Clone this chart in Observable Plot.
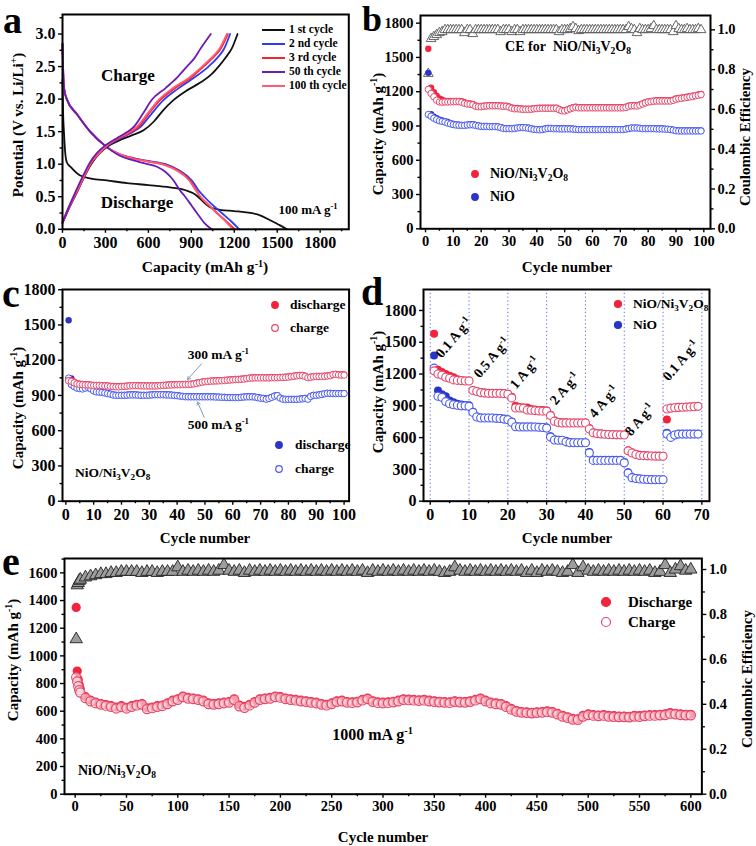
<!DOCTYPE html>
<html><head><meta charset="utf-8">
<script src="https://cdn.jsdelivr.net/npm/d3@7"></script>
<script src="https://cdn.jsdelivr.net/npm/@observablehq/plot@0.6"></script>
<style>
body{margin:0;background:#fff;}
#fig{position:relative;width:756px;height:846px;overflow:hidden;font-family:"Liberation Serif","Times New Roman",serif;font-weight:bold;color:#000;background:#fff;}
.t{position:absolute;white-space:nowrap;line-height:1;z-index:2;}
.c{transform:translate(-50%,-50%);}
.r{transform:translate(-50%,-50%) rotate(-90deg);}
.l{transform:translate(0,-50%);}
.rot{transform:translate(-50%,-50%) rotate(-50deg);}
.letter{z-index:5;}
sub{font-size:68%;vertical-align:-0.3em;line-height:0;}
sup{font-size:65%;vertical-align:0.55em;line-height:0;}
</style></head><body><div id="fig"></div><script>
const FONT = '"Liberation Serif","Times New Roman",serif';
const fig = document.getElementById("fig");

// ---------------- Panel a : voltage profiles ----------------
const aLabels = ["1 st cycle","2 nd cycle","3 rd cycle","50 th cycle","100 th cycle"];
const aColors = ["#111111","#2b3cf2","#f3262b","#6a1db5","#ff5a78"];
const aDis1 = [[0,2.3],[4,1.8],[10,1.5],[18,1.2],[30,1.03],[60,0.95],[120,0.83],[200,0.78],[310,0.75],[450,0.71],[600,0.68],[750,0.645],[860,0.6],[930,0.53],[980,0.43],[1030,0.34],[1100,0.3],[1200,0.28],[1300,0.255],[1380,0.215],[1450,0.14],[1520,0.06],[1567,0]];
const aDis2 = [[0,2.85],[5,2.4],[12,2.15],[30,2.0],[100,1.77],[193,1.5],[305,1.27],[400,1.15],[500,1.09],[600,1.05],[720,1.0],[820,0.9],[904,0.75],[950,0.6],[990,0.5],[1050,0.37],[1113,0.25],[1180,0.12],[1235,0]];
const aDis3 = [[0,2.85],[5,2.4],[12,2.15],[30,2.0],[100,1.77],[193,1.5],[305,1.27],[400,1.15],[500,1.09],[600,1.04],[715,0.99],[810,0.9],[892,0.75],[935,0.6],[962,0.5],[1020,0.37],[1078,0.25],[1145,0.12],[1205,0]];
const aDis50 = [[0,2.85],[5,2.4],[12,2.15],[30,2.0],[100,1.77],[193,1.5],[305,1.27],[400,1.13],[496,1.06],[560,1.02],[660,0.96],[720,0.88],[776,0.75],[820,0.6],[857,0.5],[900,0.37],[939,0.25],[990,0.1],[1043,0]];
const aDis100 = [[0,2.85],[5,2.4],[12,2.15],[30,2.0],[100,1.77],[193,1.5],[305,1.27],[400,1.15],[500,1.08],[600,1.04],[710,0.99],[800,0.9],[885,0.75],[930,0.6],[965,0.5],[1025,0.37],[1082,0.25],[1140,0.12],[1190,0]];
const aCh1 = [[0,0.1],[40,0.3],[90,0.52],[150,0.8],[200,1.0],[260,1.17],[320,1.28],[400,1.37],[480,1.44],[566,1.52],[640,1.66],[700,1.82],[773,1.98],[860,2.12],[960,2.25],[1040,2.38],[1090,2.5],[1140,2.64],[1183,2.78],[1223,3.0]];
const aCh2 = [[0,0.1],[40,0.3],[90,0.53],[150,0.8],[195,1.0],[250,1.15],[300,1.26],[380,1.37],[460,1.46],[543,1.57],[620,1.77],[703,1.98],[800,2.15],[900,2.3],[1020,2.5],[1080,2.63],[1128,2.77],[1171,3.0]];
const aCh3 = [[0,0.1],[40,0.3],[90,0.53],[150,0.8],[195,1.0],[250,1.15],[300,1.26],[380,1.38],[460,1.47],[530,1.57],[600,1.77],[680,1.98],[780,2.16],[880,2.3],[985,2.5],[1048,2.63],[1104,2.77],[1155,3.0]];
const aCh50 = [[0,0.1],[40,0.32],[90,0.57],[150,0.85],[190,1.02],[240,1.17],[300,1.29],[380,1.4],[440,1.48],[496,1.57],[560,1.77],[624,1.99],[720,2.17],[800,2.33],[869,2.5],[922,2.63],[966,2.78],[1036,3.0]];
const aCh100 = [[0,0.12],[40,0.32],[90,0.55],[150,0.82],[195,1.02],[250,1.16],[300,1.27],[380,1.39],[455,1.48],[525,1.59],[595,1.78],[672,1.99],[772,2.17],[872,2.31],[975,2.5],[1038,2.63],[1095,2.77],[1148,3.0]];
const aXTicks = [0,300,600,900,1200,1500,1800], aXMinor = [150,450,750,1050,1350,1650,1950];
const aYTicks = [0,0.5,1.0,1.5,2.0,2.5,3.0], aYMinor = [0.25,0.75,1.25,1.75,2.25,2.75,3.25];

// ---------------- Panel b : cycling at 100 mA/g ----------------
const bCE = [0.78,0.955,0.965,0.975,0.985,0.99,1.0,1.0,1.0,1.0,
 1.0,1.0,1.0,0.985,1.0,1.0,0.98,1.0,1.0,1.0,
 1.0,1.0,1.0,1.0,1.0,1.0,0.99,1.0,1.0,1.0,
 0.99,1.0,1.0,0.99,1.0,1.0,1.0,1.0,1.0,1.0,
 1.0,1.0,1.0,1.0,1.0,1.0,1.0,0.99,1.0,1.0,
 1.0,1.005,1.015,1.005,0.995,1.0,1.0,1.0,1.0,1.0,
 1.0,1.0,1.0,1.0,1.0,1.0,1.0,1.0,1.0,1.0,
 1.0,1.0,1.015,1.005,1.0,0.985,1.005,1.0,1.0,1.0,
 1.005,1.02,1.0,1.0,1.0,1.0,1.0,1.0,0.99,1.02,
 1.005,1.0,1.0,1.005,1.0,1.0,1.0,1.005,1.0];
const bHybDis = [1576,1235,1195,1165,1140,1130,1120,1118,1118,1118,
 1118,1118,1116,1108,1100,1098,1092,1080,1075,1075,
 1078,1080,1082,1082,1082,1082,1080,1078,1078,1072,
 1062,1058,1058,1055,1052,1052,1052,1052,1055,1058,
 1060,1060,1060,1060,1060,1060,1060,1048,1038,1038,
 1045,1055,1065,1068,1065,1065,1065,1065,1065,1065,
 1065,1065,1065,1065,1065,1065,1065,1065,1065,1065,
 1065,1068,1078,1082,1082,1080,1088,1098,1108,1115,
 1118,1122,1125,1125,1125,1125,1125,1125,1130,1140,
 1145,1148,1152,1156,1160,1165,1170,1175,1180];
const bHybCh = [1220,1185,1155,1125,1110,1108,1110,1110,1110,1112,
 1112,1112,1108,1098,1092,1090,1085,1072,1068,1068,
 1072,1075,1076,1076,1076,1076,1074,1072,1072,1065,
 1055,1050,1050,1048,1045,1045,1045,1046,1050,1052,
 1054,1054,1054,1054,1054,1054,1054,1042,1032,1032,
 1040,1050,1058,1062,1058,1058,1058,1058,1058,1058,
 1058,1058,1058,1058,1058,1058,1058,1058,1058,1058,
 1058,1062,1072,1076,1076,1074,1082,1092,1102,1110,
 1112,1116,1118,1118,1118,1118,1118,1118,1124,1134,
 1139,1142,1146,1150,1154,1158,1164,1168,1174];
const bNiODis = [1365,1002,982,968,955,948,942,935,925,918,
 914,912,910,910,912,915,915,910,905,900,
 900,900,898,898,898,896,890,882,880,880,
 880,882,886,889,890,888,884,879,874,872,
 870,872,878,882,882,880,880,878,878,878,
 878,878,876,874,872,872,872,872,872,872,
 872,872,872,872,872,872,872,872,872,872,
 872,876,881,886,886,886,883,880,880,880,
 880,880,878,878,878,876,875,872,868,862,
 860,860,860,860,860,860,860,860,860];
const bNiOCh = [1000,985,968,955,945,940,935,925,918,912,
 908,906,905,905,908,910,910,905,900,896,
 895,895,894,894,894,892,886,878,876,876,
 876,878,882,885,886,884,880,875,870,868,
 866,868,874,878,878,876,876,874,874,874,
 874,874,872,870,868,868,868,868,868,868,
 868,868,868,868,868,868,868,868,868,868,
 868,872,877,882,882,882,879,876,876,876,
 876,876,874,874,874,872,871,868,864,858,
 856,856,856,856,856,856,856,856,856];
const cycTicks100 = [0,10,20,30,40,50,60,70,80,90,100], cycMinor100 = [5,15,25,35,45,55,65,75,85,95];
const cap1800 = [0,300,600,900,1200,1500,1800], cap1800Minor = [150,450,750,1050,1350,1650];
const ceTicks = [0,0.2,0.4,0.6,0.8,1.0], ceMinor = [0.1,0.3,0.5,0.7,0.9];

// ---------------- Panel c : 300 / 500 mA/g ----------------
const cDis300 = [1030,1030,1018,1005,1000,998,996,995,992,990,
 990,990,988,986,985,982,980,978,978,980,
 982,984,986,988,988,987,986,986,985,985,
 985,985,986,988,990,992,993,994,995,996,
 996,997,998,999,1000,1003,1008,1013,1018,1022,
 1024,1026,1027,1028,1029,1030,1032,1034,1036,1038,
 1040,1041,1042,1044,1048,1052,1053,1054,1054,1054,
 1054,1054,1054,1055,1055,1056,1057,1058,1059,1061,
 1064,1068,1072,1074,1074,1068,1056,1060,1064,1066,
 1066,1067,1068,1070,1073,1082,1084,1080,1078,1078];
const cCh300 = [1025,1020,1008,998,994,992,990,990,987,985,
 985,985,983,981,980,977,975,973,973,975,
 977,979,981,983,983,982,981,981,980,980,
 980,980,981,983,985,987,988,989,990,991,
 991,992,993,994,995,998,1003,1008,1013,1017,
 1019,1021,1022,1023,1024,1025,1027,1029,1031,1033,
 1035,1036,1037,1039,1043,1047,1048,1049,1049,1049,
 1049,1049,1049,1050,1050,1051,1052,1053,1054,1056,
 1059,1063,1067,1069,1069,1063,1051,1055,1059,1061,
 1061,1062,1063,1065,1068,1077,1079,1075,1073,1073];
const cDis500 = [1540,1045,1000,975,965,960,965,970,962,945,
 935,932,930,925,920,915,908,905,905,905,
 905,906,908,908,908,906,905,905,905,906,
 908,910,910,910,910,908,908,906,904,902,
 898,895,893,892,892,892,892,892,892,892,
 892,892,892,890,890,888,888,886,886,886,
 886,886,888,890,892,892,892,890,885,880,
 878,872,878,888,898,902,882,872,870,870,
 870,870,870,872,875,878,872,895,905,905,
 908,912,918,922,922,920,920,920,920,920];
const cCh500 = [1048,992,975,962,958,955,962,968,955,938,
 930,928,926,921,916,911,904,901,901,901,
 901,902,904,904,904,902,901,901,901,902,
 904,906,906,906,906,904,904,902,900,898,
 894,891,889,888,888,888,888,888,888,888,
 888,888,888,886,886,884,884,882,882,882,
 882,882,884,886,888,888,888,886,881,876,
 874,868,874,884,894,898,878,868,866,866,
 866,866,866,868,871,874,868,891,901,901,
 904,908,914,918,918,916,916,916,916,916];
const cArrows = [{x1:48.8, y1:1170, x2:43.7, y2:1035},{x1:49.7, y1:715, x2:47.3, y2:845}];

// ---------------- Panel d : rate capability ----------------
const dHybDis = [1580,1240,1220,1200,1185,1170,1150,1145,1140,1140,
 1050,1040,1030,1025,1020,1020,1020,1020,1020,1015,
 985,900,890,885,885,870,865,860,860,855,
 815,765,750,745,745,742,742,742,742,742,
 690,650,642,638,635,632,630,630,630,628,
 480,462,448,438,435,432,430,430,428,428,
 770,880,885,888,890,890,892,895,898];
const dHybCh = [1230,1200,1190,1170,1160,1145,1140,1138,1135,1135,
 1045,1035,1025,1020,1018,1018,1018,1018,1015,1010,
 975,880,880,878,860,858,855,852,850,850,
 808,755,742,738,738,738,738,738,738,738,
 682,645,638,635,632,630,628,626,626,625,
 475,455,440,432,430,428,426,425,425,424,
 870,878,882,885,886,888,890,892,895];
const dNiODis = [1375,1045,1010,990,950,935,920,912,908,905,
 845,800,790,788,788,788,786,784,778,772,
 752,708,705,704,704,704,703,702,700,695,
 612,585,580,578,570,558,555,555,555,555,
 465,390,388,388,388,388,388,388,388,370,
 272,228,218,214,210,208,206,205,205,205,
 645,608,628,636,636,636,636,636,636];
const dNiOCh = [1256,990,980,940,920,910,905,900,900,895,
 838,795,785,785,785,785,782,780,775,768,
 745,702,700,700,700,700,700,698,695,690,
 605,578,575,575,560,552,552,552,552,552,
 455,385,385,385,385,385,385,385,385,362,
 265,222,214,210,207,205,203,202,202,202,
 635,602,625,633,633,633,633,633,633];
const dSteps = [0,10,20,30,40,50,60,70], dMinor = [5,15,25,35,45,55,65];
const dRateText = ["0.1 A g<sup>-1</sup>","0.5 A g<sup>-1</sup>","1 A g<sup>-1</sup>","2 A g<sup>-1</sup>","4 A g<sup>-1</sup>","8 A g<sup>-1</sup>","0.1 A g<sup>-1</sup>"];
const dRateX = [6.2,15.9,24.6,34.7,44.8,54.1,64.8];
const dRateY = [1533,1344,1203,1054,935,762,1322];

// ---------------- Panel e : long cycling at 1000 mA/g ----------------
const eCycles = [1,2,3,4].concat(d3.range(5,601,5));
const eDis = [1350,890,830,790,760,705,680,665,655,648,640,630,640,628,
 640,650,655,625,630,640,645,660,680,690,
 710,700,695,690,680,660,655,660,665,670,
 690,645,635,650,670,690,695,700,710,705,
 695,690,685,680,675,670,665,655,650,660,
 675,680,670,668,672,685,695,675,668,665,
 668,672,680,690,688,685,682,686,680,675,
 672,670,668,675,672,670,675,685,695,680,
 665,660,655,640,620,605,598,595,592,595,
 598,602,598,585,570,560,548,545,570,580,
 575,572,575,570,568,565,565,563,570,568,
 572,575,575,578,580,590,585,580,578,578];
const eCh = [845,815,780,752,735,695,672,658,648,640,632,620,630,620,
 632,642,648,615,622,632,638,652,672,682,
 702,692,688,682,672,652,648,652,658,662,
 682,635,625,642,662,682,688,692,702,698,
 688,682,678,672,668,662,658,648,642,652,
 668,672,662,660,665,678,688,668,660,658,
 660,665,672,682,680,678,675,678,672,668,
 665,662,660,668,665,662,668,678,688,672,
 658,652,648,632,612,598,590,588,585,588,
 590,595,590,578,562,552,540,538,562,572,
 568,565,568,562,560,558,558,556,562,560,
 565,568,568,570,572,582,578,572,570,570];
const eCE = [0.69,0.93,0.94,0.95,0.955,0.965,0.97,0.975,0.98,0.98,0.985,0.985,0.99,0.99,
 0.99,0.99,0.985,0.99,0.99,0.985,0.99,0.99,0.99,1.01,
 0.99,0.995,0.99,0.995,0.99,0.995,0.99,0.995,1.02,0.995,
 0.99,0.995,0.985,0.995,0.99,0.995,0.99,0.995,0.99,0.995,
 0.99,0.995,0.99,0.995,0.99,0.995,0.99,0.995,0.99,0.995,
 0.99,0.995,0.99,0.995,0.99,0.995,0.985,0.995,0.99,0.995,
 0.99,0.995,0.99,0.995,0.99,0.995,0.99,0.995,0.99,0.995,
 0.99,0.985,0.99,1.01,0.995,0.99,0.995,0.99,0.995,0.99,
 0.995,0.99,0.995,0.99,0.995,0.99,0.995,0.985,0.995,0.985,
 0.995,0.99,0.995,0.99,0.985,0.99,1.02,0.985,1.01,0.995,
 0.99,0.995,0.99,0.995,0.99,0.995,0.99,0.995,0.99,0.995,
 0.99,0.995,0.985,0.99,1.02,0.985,1.0,1.015,0.995,1.0];
const eXTicks = [0,50,100,150,200,250,300,350,400,450,500,550,600];
const eXMinor = [25,75,125,175,225,275,325,375,425,475,525,575];
const eYTicks = [0,200,400,600,800,1000,1200,1400,1600];
const eYMinor = [100,300,500,700,900,1100,1300,1500,1700];

// ---------------- helpers ----------------
const RED = "#f2233b", REDO = "#e2486c", BLUE = "#2a35c8", BLUEO = "#4a5af0";
const rows = (xs, ys) => ys.map((y, i) => ({x: xs[i], y}));
const pairs = p => p.map(([x, y]) => ({x, y}));

function axes({xT, xm, yT, ym, yFmt = String, rT, rm, F = 1, fs = 15}) {
  const c = {label: null, tickSize: 4, tickPadding: 3, strokeWidth: 1.4, fontSize: fs, fontWeight: "bold"};
  const m = [
    Plot.axisX({...c, ticks: xT, tickFormat: String, anchor: "bottom"}),
    Plot.axisX({...c, ticks: xm, tickSize: 2.5, tickFormat: () => "", anchor: "bottom"}),
    Plot.axisY({...c, ticks: yT, tickFormat: yFmt, anchor: "left"}),
    Plot.axisY({...c, ticks: ym, tickSize: 2.5, tickFormat: () => "", anchor: "left"})
  ];
  if (rT) {
    m.push(Plot.axisY({...c, ticks: rT.map(v => v * F), tickFormat: d => (d / F).toFixed(1), anchor: "right"}));
    m.push(Plot.axisY({...c, ticks: rm.map(v => v * F), tickSize: 2.5, tickFormat: () => "", anchor: "right"}));
  }
  m.push(Plot.frame({stroke: "#000", strokeWidth: 2}));
  return m;
}

function panel(p) {
  const ml = p.ml ?? 46, mr = p.mr ?? 12, mt = 6, mb = 28;
  const W = p.R - p.L, H = p.B - p.T;
  const svg = Plot.plot({
    width: W + ml + mr, height: H + mt + mb,
    marginLeft: ml, marginRight: mr, marginTop: mt, marginBottom: mb,
    x: {domain: p.x}, y: {domain: p.y},
    style: {fontFamily: FONT, fontSize: "15px", fontWeight: "bold", color: "#000", background: "transparent", overflow: "visible"},
    marks: p.marks
  });
  svg.style.position = "absolute";
  svg.style.left = (p.L - ml) + "px";
  svg.style.top = (p.T - mt) + "px";
  svg.style.zIndex = "1";
  fig.appendChild(svg);
  const sx = svg.scale("x"), sy = svg.scale("y");
  return {px: v => p.L - ml + sx.apply(v), py: v => p.T - mt + sy.apply(v)};
}

function txt(html, x, y, cls, size) {
  const d = document.createElement("div");
  d.className = "t " + cls;
  d.style.left = x + "px"; d.style.top = y + "px"; d.style.fontSize = size + "px";
  d.innerHTML = html;
  fig.appendChild(d);
  return d;
}
function swatch(inner, x, y, w = 14, h = 14) {
  const s = document.createElementNS("http://www.w3.org/2000/svg", "svg");
  s.setAttribute("width", w); s.setAttribute("height", h);
  s.style.position = "absolute"; s.style.left = (x - w / 2) + "px"; s.style.top = (y - h / 2) + "px";
  s.style.zIndex = "2";
  s.innerHTML = inner;
  fig.appendChild(s);
}
const dotSw = (x, y, r, fill, stroke) => swatch(`<circle cx="7" cy="7" r="${r}" fill="${fill}" stroke="${stroke}" stroke-width="1.2"/>`, x, y);
const HYB = "NiO/Ni<sub>3</sub>V<sub>2</sub>O<sub>8</sub>";
const CAPT = "Capacity (mAh g<sup>-1</sup>)";

// ---------------- draw panel a ----------------
const aDis = [aDis1, aDis2, aDis3, aDis100, aDis50];
const aCh = [aCh1, aCh2, aCh3, aCh100, aCh50];
const aOrder = [0, 1, 2, 4, 3];
const aLines = [];
aDis.forEach((c, k) => aLines.push(Plot.line(pairs(c), {x: "x", y: "y", stroke: aColors[aOrder[k]], strokeWidth: 1.8, curve: "monotone-x"})));
aCh.forEach((c, k) => aLines.push(Plot.line(pairs(c), {x: "x", y: "y", stroke: aColors[aOrder[k]], strokeWidth: 1.8, curve: "monotone-x"})));
const A = panel({L: 62.3, R: 348.6, T: 13.5, B: 228.3, x: [0, 2000], y: [0, 3.3], ml: 40,
  marks: [...aLines, ...axes({xT: aXTicks, xm: aXMinor, yT: aYTicks, ym: aYMinor, yFmt: d => d.toFixed(1), fs: 16})]});
txt("Charge", A.px(459), A.py(2.35), "c", 17);
txt("Discharge", A.px(522), A.py(0.41), "c", 17);
txt("100 mA g<sup>-1</sup>", A.px(1716), A.py(0.30), "c", 13);
aLabels.forEach((lab, i) => {
  const y = 30 + i * 14.1;
  swatch(`<line x1="0" y1="3" x2="23" y2="3" stroke="${aColors[i]}" stroke-width="2"/>`, 273.5, y, 23, 6);
  txt(lab, 289, y, "l", 11.5);
});
txt(CAPT, 205, 267, "c", 15.5);
txt("Potential (V vs. Li/Li<sup>+</sup>)", 18, 125, "r", 15);

// ---------------- draw panel b ----------------
const bCyc = d3.range(1, 100);
const FB = 1867 / 1.072;
const B = panel({L: 420, R: 710, T: 15, B: 228.3, x: [-1.8, 102.4], y: [0, 1867], ml: 40, mr: 36,
  marks: [
    Plot.dot(rows(bCyc, bCE.map(v => v * FB)), {x: "x", y: "y", symbol: "triangle", r: 3.6, stroke: "#555", fill: "#fff", strokeWidth: 0.9}),
    Plot.dot(rows(bCyc, bNiODis), {x: "x", y: "y", r: 3.2, fill: BLUE}),
    Plot.dot(rows(bCyc, bNiOCh), {x: "x", y: "y", r: 3.2, fill: "#fff", stroke: BLUEO, strokeWidth: 1}),
    Plot.dot(rows(bCyc, bHybDis), {x: "x", y: "y", r: 3.2, fill: RED}),
    Plot.dot(rows(bCyc, bHybCh), {x: "x", y: "y", r: 3.2, fill: "#fff", stroke: REDO, strokeWidth: 1}),
    ...axes({xT: cycTicks100, xm: cycMinor100, yT: cap1800, ym: cap1800Minor, rT: ceTicks, rm: ceMinor, F: FB, fs: 14.5})
  ]});
txt("CE for&nbsp; " + HYB, B.px(51.4), B.py(1587), "c", 14);
dotSw(475, 174, 3.3, RED, RED); txt(HYB, 490, 174, "l", 14);
dotSw(475, 197, 3.3, BLUE, BLUE); txt("NiO", 490, 197, "l", 14);
txt("Cycle number", 567, 267, "c", 15);
txt(CAPT, 378, 134, "r", 15);
txt("Coulombic Efficiency", 745, 137, "r", 15);

// ---------------- draw panel c ----------------
const cCyc = d3.range(1, 101);
const C = panel({L: 61.7, R: 348.3, T: 289, B: 500.7, x: [-1.2, 101.8], y: [0, 1802], ml: 40,
  marks: [
    Plot.dot(rows(cCyc, cDis500), {x: "x", y: "y", r: 3.2, fill: BLUE}),
    Plot.dot(rows(cCyc, cCh500), {x: "x", y: "y", r: 3.2, fill: "#fff", stroke: BLUEO, strokeWidth: 1}),
    Plot.dot(rows(cCyc, cDis300), {x: "x", y: "y", r: 3.2, fill: RED}),
    Plot.dot(rows(cCyc, cCh300), {x: "x", y: "y", r: 3.2, fill: "#fff", stroke: REDO, strokeWidth: 1}),
    Plot.arrow(cArrows, {x1: "x1", y1: "y1", x2: "x2", y2: "y2", stroke: "#7d9cbd", strokeWidth: 1, headLength: 5}),
    ...axes({xT: cycTicks100, xm: cycMinor100, yT: cap1800, ym: cap1800Minor, fs: 16})
  ]});
txt("300 mA g<sup>-1</sup>", C.px(55.1), C.py(1240), "c", 13.5);
txt("500 mA g<sup>-1</sup>", C.px(55.1), C.py(644), "c", 13.5);
dotSw(275, 305, 3.3, RED, RED); txt("discharge", 290, 305, "l", 13.5);
dotSw(275, 328, 3.3, "#fff", REDO); txt("charge", 290, 328, "l", 13.5);
dotSw(279, 445, 3.3, BLUE, BLUE); txt("discharge", 295, 445, "l", 13.5);
dotSw(279, 469, 3.3, "#fff", BLUEO); txt("charge", 295, 469, "l", 13.5);
txt(HYB, 75, 473, "l", 13.5);
txt("Cycle number", 205, 538, "c", 15);
txt(CAPT, 18, 408, "r", 15);

// ---------------- draw panel d ----------------
const dCyc = d3.range(1, 70);
const D = panel({L: 423.3, R: 709.3, T: 289, B: 500.7, x: [-1.73, 71.97], y: [0, 1998], ml: 40,
  marks: [
    Plot.ruleX(dSteps, {stroke: "#5566ee", strokeWidth: 1, strokeDasharray: "1.2,2.6"}),
    Plot.dot(rows(dCyc, dNiODis), {x: "x", y: "y", r: 4, fill: BLUE}),
    Plot.dot(rows(dCyc, dNiOCh), {x: "x", y: "y", r: 4, fill: "#fff", stroke: BLUEO, strokeWidth: 1.1}),
    Plot.dot(rows(dCyc, dHybDis), {x: "x", y: "y", r: 4, fill: RED}),
    Plot.dot(rows(dCyc, dHybCh), {x: "x", y: "y", r: 4, fill: "#fff", stroke: REDO, strokeWidth: 1.1}),
    ...axes({xT: dSteps, xm: dMinor, yT: cap1800, ym: cap1800Minor, fs: 16})
  ]});
dRateText.forEach((t, i) => txt(t, D.px(dRateX[i]), D.py(dRateY[i]), "rot", 14));
dotSw(618, 304, 3.5, RED, RED); txt(HYB, 633, 304, "l", 13.5);
dotSw(618, 325, 3.5, BLUE, BLUE); txt("NiO", 633, 325, "l", 13.5);
txt("Cycle number", 567, 538, "c", 15);
txt(CAPT, 378, 392, "r", 15);

// ---------------- draw panel e ----------------
const FE = 1704 / 1.049;
const E = panel({L: 64.3, R: 701.7, T: 558.3, B: 794, x: [-10.4, 610.8], y: [0, 1704], ml: 40, mr: 36,
  marks: [
    Plot.dot(rows(eCycles, eCE.map(v => v * FE)), {x: "x", y: "y", symbol: "triangle", r: 4.6, stroke: "#222", fill: "#9c9c9c", strokeWidth: 0.9}),
    Plot.dot(rows(eCycles, eDis), {x: "x", y: "y", r: 4.6, fill: RED}),
    Plot.dot(rows(eCycles, eCh), {x: "x", y: "y", r: 4.6, fill: "#fff", fillOpacity: 0.55, stroke: REDO, strokeWidth: 1.2}),
    ...axes({xT: eXTicks, xm: eXMinor, yT: eYTicks, ym: eYMinor, rT: ceTicks, rm: ceMinor, F: FE, fs: 14.5})
  ]});
txt("1000 mA g<sup>-1</sup>", E.px(290), E.py(427), "c", 16);
txt(HYB, 78, 771, "l", 14);
dotSw(606, 602, 4.5, RED, RED); txt("Discharge", 628, 602, "l", 15);
dotSw(606, 622, 4.5, "#fff", REDO); txt("Charge", 628, 622, "l", 15);
txt("Cycle number", 383, 837, "c", 15);
txt(CAPT, 13, 660, "r", 15);
txt("Coulombic Efficiency", 747, 679, "r", 15);

// ---------------- panel letters (on top of everything) ----------------
const letters = ["a", "b", "c", "d", "e"];
const letterPos = [[3, 1, 38], [362, 1, 36], [2, 273.5, 40], [361, 271.5, 40], [2, 541.5, 40]];
letters.forEach((s, i) => txt(s, letterPos[i][0], letterPos[i][1], "letter", letterPos[i][2]));
</script></body></html>
